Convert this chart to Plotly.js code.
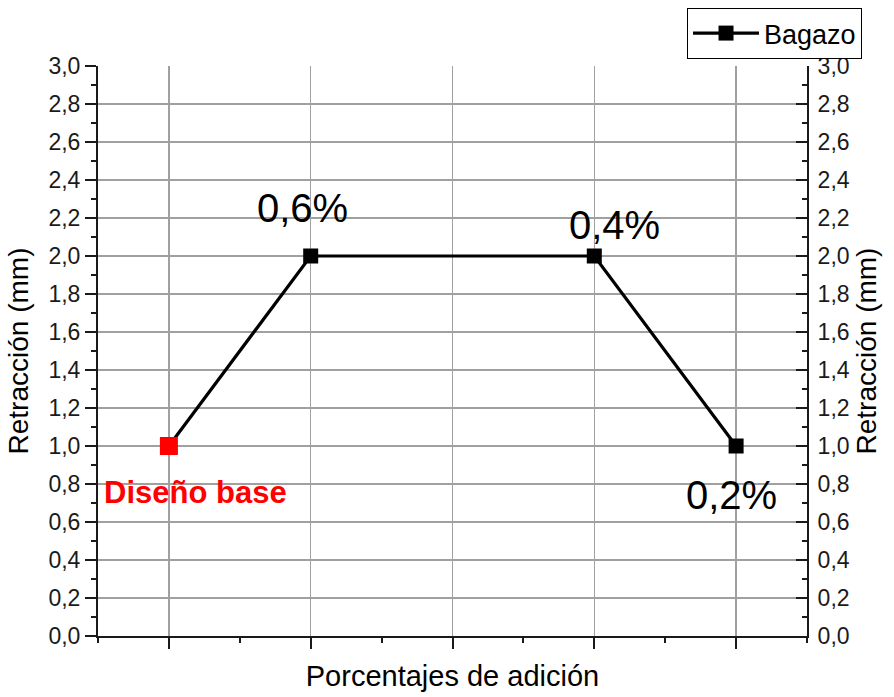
<!DOCTYPE html>
<html>
<head>
<meta charset="utf-8">
<script src="https://cdn.plot.ly/plotly-3.0.1.min.js"></script>
<style>
  body { margin: 0; background: #fff; }
  #plot { width: 894px; height: 697px; }
</style>
</head>
<body>
<div id="plot"></div>
<script>
// posiciones en el eje x (sin etiquetas) y retracción medida (mm)
const xPos = [1, 2, 4, 5];
const retraccion = [1.0, 2.0, 2.0, 1.0];
const etiquetas = ["Diseño base", "0,6%", "0,4%", "0,2%"];
const serieName = "Bagazo";

const FONT = "Arial, 'Liberation Sans', sans-serif";
const INK = "#1a1a1a";

// desplazamiento de cada etiqueta respecto a su punto (px)
const labelShift = [[27, -46], [-8, 48], [20, 31], [-5, -49]];

const traces = [
  {
    name: serieName,
    x: xPos,
    y: retraccion,
    mode: "lines+markers",
    line: { color: "#000", width: 3.2 },
    marker: { symbol: "square", size: 15, color: "#000" }
  },
  // diseño base en rojo
  {
    x: [xPos[0]],
    y: [retraccion[0]],
    yaxis: "y2",
    mode: "markers",
    showlegend: false,
    marker: { symbol: "square", size: 18, color: "#ff0000" }
  }
];

const annotations = etiquetas.map((txt, i) => ({
  x: xPos[i],
  y: retraccion[i],
  xref: "x",
  yref: "y",
  text: i === 0 ? "<b>" + txt + "</b>" : txt,
  showarrow: false,
  xshift: labelShift[i][0],
  yshift: labelShift[i][1],
  font: i === 0
    ? { family: FONT, size: 31, color: "#ff0000" }
    : { family: FONT, size: 40, color: "#000" }
}));

const yCommon = {
  range: [0, 3],
  tickmode: "linear",
  tick0: 0,
  dtick: 0.2,
  tickformat: ".1f",
  ticklen: 11,
  tickwidth: 2,
  tickcolor: INK,
  showline: true,
  linecolor: INK,
  linewidth: 2,
  zeroline: false,
  tickfont: { family: FONT, size: 23, color: INK },
  fixedrange: true
};

const layout = {
  width: 894,
  height: 697,
  margin: { l: 98, r: 87, t: 66, b: 61, autoexpand: false },
  paper_bgcolor: "#fff",
  plot_bgcolor: "#fff",
  separators: ",.",
  font: { family: FONT, color: INK },
  showlegend: true,
  legend: {
    x: 1.0776, xanchor: "right",
    y: 1.1017, yanchor: "top",
    bgcolor: "#fff",
    bordercolor: "#000",
    borderwidth: 1,
    itemwidth: 66,
    font: { family: FONT, size: 27, color: "#000" }
  },
  xaxis: {
    range: [0.5, 5.5],
    tickmode: "linear",
    tick0: 1,
    dtick: 1,
    showticklabels: false,
    ticks: "outside",
    ticklen: 11,
    tickwidth: 2,
    tickcolor: INK,
    showgrid: true,
    gridcolor: "#a0a0a0",
    gridwidth: 1.5,
    showline: true,
    linecolor: INK,
    linewidth: 2,
    zeroline: false,
    minor: { tick0: 0.5, dtick: 0.5, ticks: "outside", ticklen: 5, tickcolor: INK, tickwidth: 2, showgrid: false },
    title: { text: "Porcentajes de adición", font: { family: FONT, size: 29, color: "#000" }, standoff: 18 }
  },
  xaxis2: {
    overlaying: "x",
    side: "top",
    range: [0.5, 5.5],
    tickmode: "linear",
    tick0: 1,
    dtick: 1,
    showticklabels: false,
    ticks: "inside",
    ticklen: 11,
    tickwidth: 2,
    tickcolor: INK,
    showgrid: false,
    showline: true,
    linecolor: INK,
    linewidth: 2,
    zeroline: false,
    minor: { tick0: 0.5, dtick: 0.5, ticks: "inside", ticklen: 5, tickcolor: INK, tickwidth: 2, showgrid: false }
  },
  yaxis: Object.assign({}, yCommon, {
    ticks: "outside",
    showgrid: true,
    gridcolor: "#a0a0a0",
    gridwidth: 1.5,
    minor: { dtick: 0.1, ticks: "outside", ticklen: 5, tickcolor: INK, tickwidth: 2, showgrid: false },
    title: { text: "Retracción (mm)", font: { family: FONT, size: 28, color: "#000" }, standoff: 12 }
  }),
  yaxis2: Object.assign({}, yCommon, {
    overlaying: "y",
    side: "right",
    ticks: "inside",
    showgrid: false,
    ticklabelstandoff: 4,
    minor: { dtick: 0.1, ticks: "inside", ticklen: 5, tickcolor: INK, tickwidth: 2, showgrid: false },
    title: { text: "Retracción (mm)", font: { family: FONT, size: 28, color: "#000" }, standoff: 8 }
  }),
  annotations: annotations
};

Plotly.newPlot("plot", traces, layout, { displayModeBar: false, staticPlot: true });
</script>
</body>
</html>
